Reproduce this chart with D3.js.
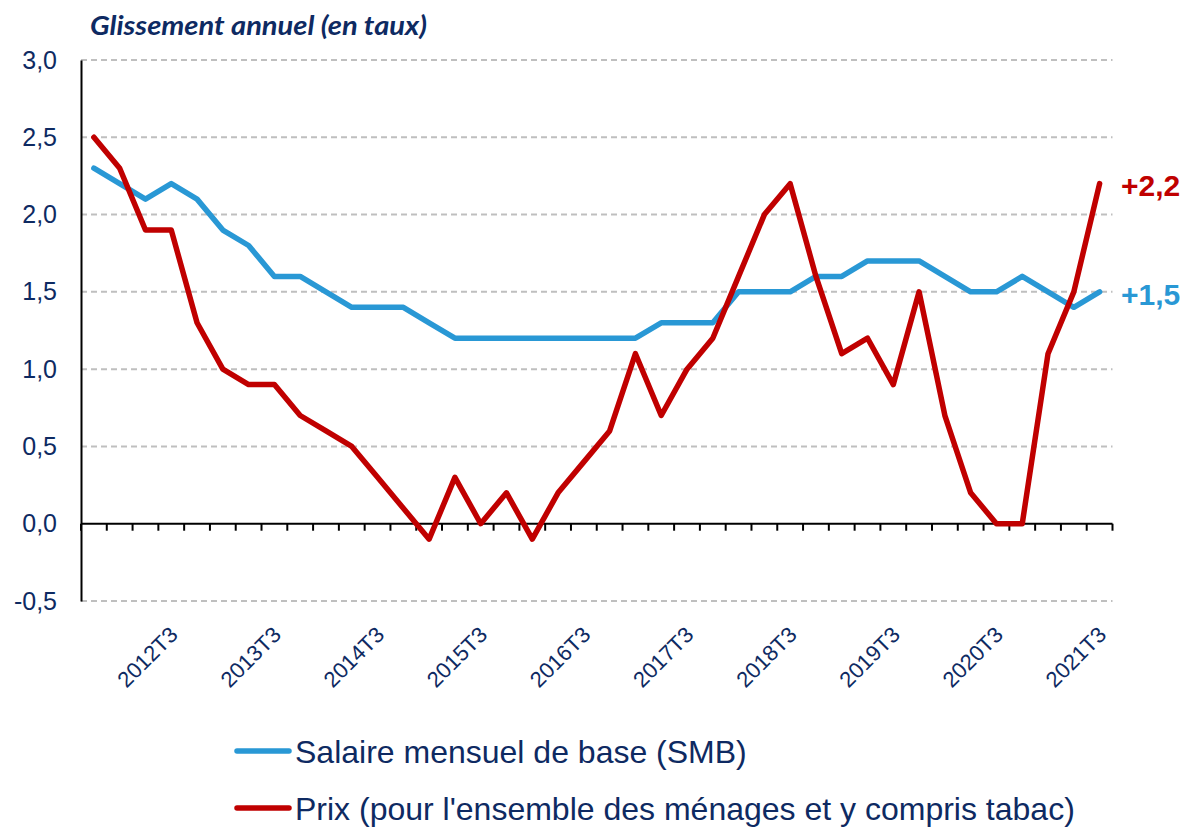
<!DOCTYPE html>
<html>
<head>
<meta charset="utf-8">
<script src="https://cdn.jsdelivr.net/npm/d3@7"></script>
<style>
  body { margin: 0; background: #ffffff; }
  svg { display: block; }
</style>
</head>
<body>
<svg id="chart" width="1187" height="830"></svg>
<script>
// quarters from 2011T4 to 2021T3
var quarters = [];
for (var yr = 2011; yr <= 2021; yr++) {
  for (var q = 1; q <= 4; q++) {
    if ((yr == 2011 && q < 4) || (yr == 2021 && q > 3)) continue;
    quarters.push(yr + "T" + q);
  }
}

// Salaire mensuel de base (SMB), glissement annuel en %
var smb = [2.3, 2.2, 2.1, 2.2, 2.1, 1.9, 1.8, 1.6, 1.6, 1.5,
           1.4, 1.4, 1.4, 1.3, 1.2, 1.2, 1.2, 1.2, 1.2, 1.2,
           1.2, 1.2, 1.3, 1.3, 1.3, 1.5, 1.5, 1.5, 1.6, 1.6,
           1.7, 1.7, 1.7, 1.6, 1.5, 1.5, 1.6, 1.5, 1.4, 1.5];

// Prix (ensemble des ménages, y compris tabac)
var prix = [2.5, 2.3, 1.9, 1.9, 1.3, 1.0, 0.9, 0.9, 0.7, 0.6,
            0.5, 0.3, 0.1, -0.1, 0.3, 0.0, 0.2, -0.1, 0.2, 0.4,
            0.6, 1.1, 0.7, 1.0, 1.2, 1.6, 2.0, 2.2, 1.6, 1.1,
            1.2, 0.9, 1.5, 0.7, 0.2, 0.0, 0.0, 1.1, 1.5, 2.2];

var yTicks = [-0.5, 0, 0.5, 1.0, 1.5, 2.0, 2.5, 3.0];
var labelQuarters = quarters.filter(function(d) { return /T3$/.test(d); });

var seriesNames = ["Salaire mensuel de base (SMB)",
                   "Prix (pour l'ensemble des ménages et y compris tabac)"];

var navy = "#0e2a62", blue = "#2998d5", red = "#c00000";

var svg = d3.select("#chart");

var x = d3.scaleBand()
    .domain(quarters)
    .range([81, 1112.5])
    .padding(0);

var y = d3.scaleLinear()
    .domain([-0.5, 3.0])
    .range([601, 60]);

var cx = function(d) { return x(d) + x.bandwidth() / 2; };
var fmt = function(v) { return d3.format(".1f")(v).replace(".", ",").replace("−", "-"); };

// title
svg.append("text")
    .attr("x", 90)
    .attr("y", 35)
    .attr("fill", navy)
    .style("font-family", "Lato, 'Open Sans', sans-serif")
    .style("font-weight", "bold")
    .style("font-style", "italic")
    .style("font-size", "26px")
    .attr("textLength", 337)
    .attr("lengthAdjust", "spacingAndGlyphs")
    .text("Glissement annuel (en taux)");

// gridlines
svg.append("g")
  .selectAll("line")
  .data(yTicks.filter(function(d) { return d != 0; }))
  .enter().append("line")
    .attr("x1", 81)
    .attr("x2", 1112.5)
    .attr("y1", function(d) { return y(d); })
    .attr("y2", function(d) { return y(d); })
    .attr("stroke", "#bfbfbf")
    .attr("stroke-width", 2)
    .attr("stroke-dasharray", "6,4");

// y axis
var yAxis = svg.append("g")
    .attr("transform", "translate(81,0)")
    .call(d3.axisLeft(y).tickValues(yTicks).tickSize(0).tickPadding(24).tickFormat(fmt));
yAxis.select(".domain").attr("stroke", "#000").attr("stroke-width", 2);
yAxis.selectAll("text")
    .attr("fill", navy)
    .style("font-family", "'Liberation Sans', Arial, sans-serif")
    .style("font-size", "25px");

// x axis at zero
var xAxis = svg.append("g")
    .attr("transform", "translate(0," + y(0) + ")");
xAxis.append("line")
    .attr("x1", 81)
    .attr("x2", 1112.5)
    .attr("stroke", "#000")
    .attr("stroke-width", 2);
xAxis.selectAll(".tick")
  .data(quarters.concat(["end"]))
  .enter().append("line")
    .attr("class", "tick")
    .attr("x1", function(d) { return d == "end" ? x.range()[1] : x(d); })
    .attr("x2", function(d) { return d == "end" ? x.range()[1] : x(d); })
    .attr("y1", 0)
    .attr("y2", 7)
    .attr("stroke", "#000")
    .attr("stroke-width", 2);

// x labels (rotated)
svg.append("g")
  .selectAll("text")
  .data(labelQuarters)
  .enter().append("text")
    .attr("transform", function(d) { return "translate(" + (cx(d) + 8) + ",636) rotate(-45)"; })
    .attr("text-anchor", "end")
    .attr("fill", navy)
    .style("font-family", "'Liberation Sans', Arial, sans-serif")
    .style("font-size", "22px")
    .text(function(d) { return d; });

// lines
var line = d3.line()
    .x(function(d, i) { return cx(quarters[i]); })
    .y(function(d) { return y(d); });

svg.append("path")
    .datum(smb)
    .attr("fill", "none")
    .attr("stroke", blue)
    .attr("stroke-width", 5.5)
    .attr("stroke-linejoin", "round")
    .attr("stroke-linecap", "round")
    .attr("d", line);

svg.append("path")
    .datum(prix)
    .attr("fill", "none")
    .attr("stroke", red)
    .attr("stroke-width", 5.5)
    .attr("stroke-linejoin", "round")
    .attr("stroke-linecap", "round")
    .attr("d", line);

// end labels
var last = quarters.length - 1;
svg.append("text")
    .attr("x", 1121)
    .attr("y", y(prix[last]) + 12)
    .attr("fill", red)
    .style("font-family", "'Liberation Sans', Arial, sans-serif")
    .style("font-weight", "bold")
    .style("font-size", "30px")
    .text("+" + fmt(prix[last]));
svg.append("text")
    .attr("x", 1121)
    .attr("y", y(smb[last]) + 13)
    .attr("fill", blue)
    .style("font-family", "'Liberation Sans', Arial, sans-serif")
    .style("font-weight", "bold")
    .style("font-size", "30px")
    .text("+" + fmt(smb[last]));

// legend
var legend = svg.append("g")
  .selectAll("g")
  .data(seriesNames)
  .enter().append("g")
    .attr("transform", function(d, i) { return "translate(237," + (751 + i * 57) + ")"; });
legend.append("line")
    .attr("x1", 0)
    .attr("x2", 52)
    .attr("stroke", function(d, i) { return i == 0 ? blue : red; })
    .attr("stroke-width", 5.5)
    .attr("stroke-linecap", "round");
legend.append("text")
    .attr("x", 58)
    .attr("dy", "0.36em")
    .attr("fill", navy)
    .style("font-family", "'Liberation Sans', Arial, sans-serif")
    .style("font-size", "32px")
    .text(function(d) { return d; });
</script>
</body>
</html>
